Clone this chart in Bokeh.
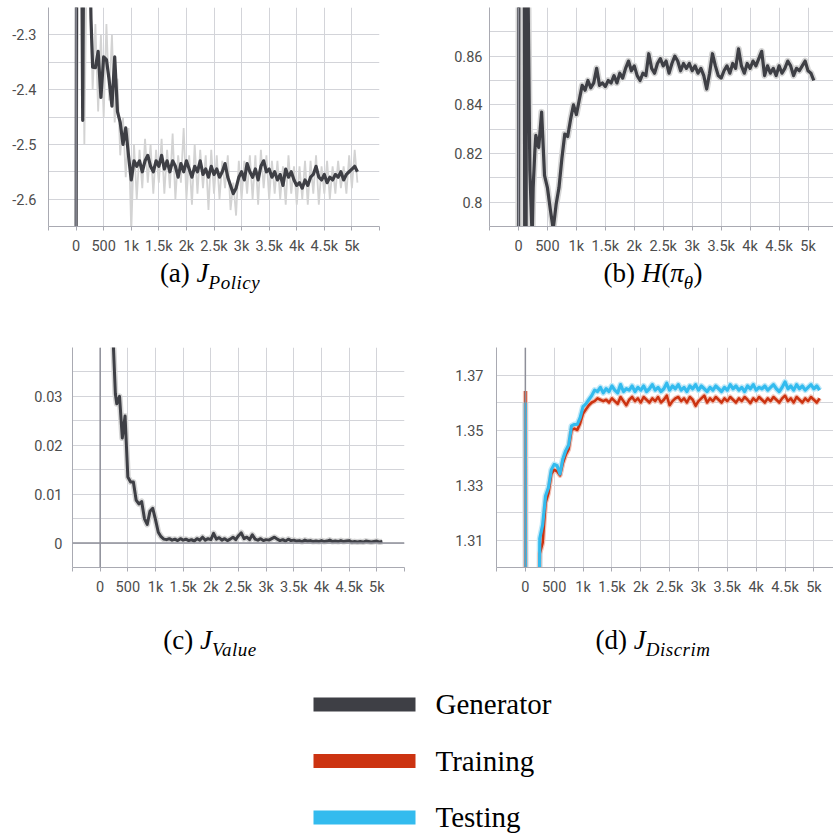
from bokeh.plotting import figure
from bokeh.models import Range1d, FixedTicker, Span, Div, ColumnDataSource
from bokeh.layouts import column, row
from bokeh.embed import file_html
from bokeh.resources import INLINE
from bokeh.core.properties import value

# ---------------- data ----------------
x_tick_values = [-500, 0, 500, 1000, 1500, 2000, 2500, 3000, 3500, 4000, 4500, 5000, 5500]
x_tick_labels = ["", "0", "500", "1k", "1.5k", "2k", "2.5k", "3k", "3.5k", "4k", "4.5k", "5k", ""]

# (a) J_Policy
policy_steps = [0, 8, 100, 120, 140, 240, 270] + list(range(300, 5101, 50))
policy_smoothed = [
    -2.72, -2.10, -2.10, -2.456, -2.10, -2.10, -2.27,
    -2.359, -2.36, -2.33, -2.414, -2.34, -2.345, -2.383, -2.43, -2.34, -2.44,
    -2.46, -2.50, -2.47, -2.52, -2.565,
    -2.53, -2.54, -2.53, -2.55, -2.53, -2.52, -2.54, -2.55, -2.53, -2.54,
    -2.52, -2.545, -2.53, -2.55, -2.53, -2.54, -2.56, -2.535, -2.55, -2.53,
    -2.545, -2.56, -2.54, -2.55, -2.53, -2.555, -2.545, -2.56, -2.54, -2.555,
    -2.545, -2.56, -2.55, -2.535, -2.56, -2.575, -2.59, -2.58, -2.56, -2.55,
    -2.565, -2.535, -2.55, -2.56, -2.545, -2.565, -2.54, -2.53, -2.55, -2.545,
    -2.56, -2.55, -2.565, -2.555, -2.575, -2.545, -2.56, -2.55, -2.565, -2.575,
    -2.57, -2.58, -2.565, -2.575, -2.56, -2.555, -2.54, -2.56, -2.565, -2.555,
    -2.57, -2.56, -2.565, -2.555, -2.56, -2.55, -2.565, -2.555, -2.55, -2.545,
    -2.54, -2.55,
]
policy_raw_steps = list(range(0, 5101, 50))
policy_raw = [
    -2.70, -2.10, -2.10, -2.50, -2.10, -2.20, -2.40, -2.28, -2.44, -2.30,
    -2.45, -2.28, -2.42, -2.30, -2.46, -2.38, -2.52, -2.45, -2.56, -2.47,
    -2.66, -2.50, -2.60, -2.51, -2.58, -2.49, -2.57, -2.50, -2.59, -2.51,
    -2.57, -2.49, -2.59, -2.51, -2.58, -2.48, -2.60, -2.52, -2.57, -2.47,
    -2.60, -2.52, -2.61, -2.50, -2.59, -2.51, -2.58, -2.52, -2.62, -2.51,
    -2.59, -2.52, -2.60, -2.53, -2.58, -2.52, -2.62, -2.57, -2.63, -2.53,
    -2.60, -2.53, -2.59, -2.52, -2.60, -2.52, -2.61, -2.51, -2.58, -2.52,
    -2.60, -2.53, -2.59, -2.53, -2.60, -2.54, -2.61, -2.52, -2.59, -2.54,
    -2.61, -2.54, -2.60, -2.53, -2.61, -2.53, -2.59, -2.52, -2.61, -2.54,
    -2.59, -2.53, -2.60, -2.54, -2.59, -2.53, -2.58, -2.54, -2.59, -2.52,
    -2.58, -2.51, -2.57,
]
policy_y_ticks = [-2.6, -2.5, -2.4, -2.3]
policy_y_labels = ["-2.6", "-2.5", "-2.4", "-2.3"]
policy_y_grid = [-2.65, -2.6, -2.55, -2.5, -2.45, -2.4, -2.35, -2.3, -2.25]

# (b) H(pi_theta)
entropy_steps = [0, 8, 100, 110, 130, 140, 160, 197, 237, 254, 283] + list(range(300, 5101, 50))
entropy_smoothed = [
    0.75, 0.92, 0.92, 0.75, 0.75, 0.92, 0.90, 0.813, 0.785, 0.806, 0.821,
    0.8275, 0.8225, 0.837, 0.811, 0.806, 0.797, 0.789, 0.799, 0.806, 0.818,
    0.828, 0.827, 0.834, 0.840, 0.836,
    0.842, 0.848, 0.846, 0.850, 0.847, 0.849, 0.855, 0.848, 0.849, 0.8475,
    0.850, 0.849, 0.852, 0.849, 0.853, 0.851, 0.855, 0.858, 0.854, 0.856,
    0.852, 0.850, 0.853, 0.852, 0.861, 0.855, 0.853, 0.857, 0.859, 0.856,
    0.858, 0.853, 0.857, 0.860, 0.858, 0.854, 0.857, 0.855, 0.857, 0.854,
    0.856, 0.853, 0.855, 0.852, 0.8465, 0.853, 0.861, 0.856, 0.852, 0.851,
    0.854, 0.856, 0.853, 0.857, 0.855, 0.863, 0.856, 0.853, 0.857, 0.855,
    0.858, 0.856, 0.859, 0.862, 0.852, 0.856, 0.853, 0.855, 0.852, 0.856,
    0.853, 0.855, 0.858, 0.856, 0.852, 0.855, 0.854, 0.856, 0.858, 0.854,
    0.853, 0.850,
]
entropy_y_ticks = [0.80, 0.82, 0.84, 0.86]
entropy_y_labels = ["0.8", "0.82", "0.84", "0.86"]
entropy_y_grid = [0.79, 0.80, 0.81, 0.82, 0.83, 0.84, 0.85, 0.86, 0.87, 0.88]

# (c) J_Value
value_steps = [200, 240, 275] + list(range(300, 5101, 50))
value_smoothed = [
    0.08, 0.040, 0.0305,
    0.0285, 0.0300, 0.0215, 0.0260, 0.0135, 0.0125, 0.0125, 0.0088, 0.0080, 0.0085,
    0.0050, 0.0038, 0.0065, 0.0071, 0.0048, 0.0022, 0.0013, 0.0008, 0.0007, 0.0009,
    0.0006, 0.0008, 0.0005, 0.0009, 0.0006, 0.0008, 0.0005, 0.0007, 0.0004, 0.0009,
    0.0006, 0.0012, 0.0006, 0.0009, 0.0007, 0.0020, 0.0008, 0.0011, 0.0006, 0.0009,
    0.0005, 0.0008, 0.0012, 0.0007, 0.0015, 0.0021, 0.0009, 0.0012, 0.0007, 0.0017,
    0.0008, 0.0006, 0.0009, 0.0005, 0.0007, 0.0006, 0.0009, 0.0012, 0.0008, 0.0005,
    0.0007, 0.0004, 0.0008, 0.0005, 0.0006, 0.0004, 0.0005, 0.0003, 0.0006, 0.0004,
    0.0005, 0.0003, 0.0004, 0.0003, 0.0005, 0.0003, 0.0004, 0.0006, 0.0003, 0.0004,
    0.0003, 0.0005, 0.0003, 0.0004, 0.0005, 0.0002, 0.0003, 0.0002, 0.0003, 0.0002,
    0.0004, 0.0003, 0.0002, 0.0003, 0.0004, 0.0002, 0.0003,
]
value_y_ticks = [0.0, 0.01, 0.02, 0.03]
value_y_labels = ["0", "0.01", "0.02", "0.03"]
value_y_grid = [-0.005, 0.0, 0.005, 0.01, 0.015, 0.02, 0.025, 0.03, 0.035, 0.04]

# (d) J_Discrim
discrim_steps = [0, 5, 240] + list(range(250, 5101, 50))
discrim_training = [
    1.3642, 1.28, 1.28,
    1.3050, 1.3090, 1.3235, 1.3270, 1.3340, 1.3355, 1.3350, 1.3335, 1.3380, 1.3410,
    1.3430, 1.3500, 1.3505, 1.3500, 1.3525, 1.3560, 1.3575, 1.3590, 1.3600, 1.3605,
    1.3615, 1.3610, 1.3605,
    1.3610, 1.3600, 1.3615, 1.3605, 1.3595, 1.3620, 1.3605, 1.3590, 1.3610, 1.3620,
    1.3605, 1.3615,
    1.3600, 1.3620, 1.3610, 1.3600, 1.3615, 1.3605, 1.3620, 1.3600, 1.3610, 1.3625,
    1.3590, 1.3605, 1.3615, 1.3620, 1.3605, 1.3615, 1.3600, 1.3620, 1.3610, 1.3588,
    1.3605, 1.3615, 1.3625, 1.3600, 1.3615, 1.3605, 1.3620, 1.3610, 1.3600, 1.3615,
    1.3605, 1.3620, 1.3610, 1.3600, 1.3615, 1.3605, 1.3620, 1.3610, 1.3598, 1.3615,
    1.3605, 1.3620, 1.3610, 1.3600, 1.3615, 1.3605, 1.3620, 1.3610, 1.3600, 1.3615,
    1.3625, 1.3605, 1.3615, 1.3600, 1.3620, 1.3610, 1.3600, 1.3615, 1.3605, 1.3620,
    1.3610, 1.3600, 1.3615,
]
discrim_testing = [
    1.3600, 1.28, 1.28,
    1.3105, 1.3155, 1.3260, 1.3290, 1.3355, 1.3375, 1.3370, 1.3340, 1.3395, 1.3425,
    1.3445, 1.3515, 1.3520, 1.3520, 1.3545, 1.3585, 1.3595, 1.3610, 1.3625, 1.3645,
    1.3640, 1.3655, 1.3635,
    1.3650, 1.3640, 1.3660, 1.3645, 1.3635, 1.3665, 1.3640, 1.3650, 1.3645, 1.3660,
    1.3640, 1.3655,
    1.3645, 1.3660, 1.3640, 1.3650, 1.3665, 1.3645, 1.3655, 1.3640, 1.3650, 1.3670,
    1.3645, 1.3660, 1.3650, 1.3665, 1.3645, 1.3655, 1.3640, 1.3660, 1.3650, 1.3665,
    1.3645, 1.3660, 1.3650, 1.3640, 1.3655, 1.3645, 1.3660, 1.3650, 1.3640, 1.3655,
    1.3645, 1.3665, 1.3650, 1.3660, 1.3645, 1.3655, 1.3640, 1.3660, 1.3650, 1.3665,
    1.3645, 1.3655, 1.3650, 1.3660, 1.3645, 1.3655, 1.3665, 1.3650, 1.3640, 1.3655,
    1.3675, 1.3650, 1.3660, 1.3645, 1.3665, 1.3650, 1.3660, 1.3645, 1.3655, 1.3665,
    1.3650, 1.3660, 1.3645,
]
discrim_y_ticks = [1.31, 1.33, 1.35, 1.37]
discrim_y_labels = ["1.31", "1.33", "1.35", "1.37"]
discrim_y_grid = [1.30, 1.31, 1.32, 1.33, 1.34, 1.35, 1.36, 1.37, 1.38]

legend_names = ["Generator", "Training", "Testing"]

caption_a = '(a) <i>J</i><sub class="s">Policy</sub>'
caption_b = '(b) <i>H</i>(<i>&pi;</i><sub class="s">&theta;</sub>)'
caption_c = '(c) <i>J</i><sub class="s">Value</sub>'
caption_d = '(d) <i>J</i><sub class="s">Discrim</sub>'

# ---------------- styles ----------------
DARK = "#3e3f45"
RAW = "#d3d3d3"
HALO = "#d6d6d6"
RED = "#cc3311"
BLUE = "#33bbee"
RED_HALO = "#f1c2b6"
BLUE_HALO = "#bfe8f8"
GRID = "#d3d4d9"
AXIS = "#a9aab2"
ZERO = "#8e8f99"
TICK_FONT = "Roboto"
TICK_COLOR = "#4d4d4d"
legend_colors = [DARK, RED, BLUE]

for xs, ys in [(policy_steps, policy_smoothed), (policy_raw_steps, policy_raw),
               (entropy_steps, entropy_smoothed), (value_steps, value_smoothed),
               (discrim_steps, discrim_training), (discrim_steps, discrim_testing)]:
    assert len(xs) == len(ys), (len(xs), len(ys))


def make_panel(width, left, right, x_end, y_range, y_ticks, y_labels, y_grid, standoff, frame_h):
    p = figure(width=width, height=7 + frame_h + 36,
               x_range=Range1d(-500, x_end), y_range=Range1d(*y_range),
               output_backend="svg", toolbar_location=None,
               min_border_left=left, min_border_right=right,
               min_border_top=7, min_border_bottom=36)
    p.outline_line_color = None
    p.background_fill_color = "white"
    p.border_fill_color = "white"
    xa = p.xaxis[0]
    xa.ticker = FixedTicker(ticks=x_tick_values)
    xa.major_label_overrides = dict(zip(x_tick_values, x_tick_labels))
    xa.axis_line_color = AXIS
    xa.major_tick_line_color = AXIS
    xa.major_tick_out = 4
    xa.major_tick_in = 0
    xa.minor_tick_line_color = None
    xa.major_label_standoff = 7
    ya = p.yaxis[0]
    ya.ticker = FixedTicker(ticks=y_ticks)
    ya.major_label_overrides = dict(zip(y_ticks, y_labels))
    ya.axis_line_color = AXIS
    ya.major_tick_line_color = None
    ya.minor_tick_line_color = None
    ya.major_tick_out = 0
    ya.major_label_standoff = standoff
    for ax in (xa, ya):
        ax.major_label_text_font = TICK_FONT
        ax.major_label_text_font_size = "14.5px"
        ax.major_label_text_color = TICK_COLOR
    p.xgrid[0].ticker = FixedTicker(ticks=x_tick_values)
    p.ygrid[0].ticker = FixedTicker(ticks=y_grid)
    p.grid.grid_line_color = GRID
    p.grid.grid_line_width = 1
    p.add_layout(Span(location=0, dimension="height", line_color=ZERO, line_width=1.5))
    return p


# (a)
pa = make_panel(420, 48, 41, 5500, (-2.65, -2.25), policy_y_ticks, policy_y_labels, policy_y_grid, 12, 219)
pa.line(policy_raw_steps, policy_raw, line_color=RAW, line_width=1.8)
pa.line(policy_steps, policy_smoothed, line_color=DARK, line_width=3.2, line_join="round")

# (b)
pb = make_panel(413, 69, 0, 5440, (0.79, 0.88), entropy_y_ticks, entropy_y_labels, entropy_y_grid, 7, 219)
pb.line(entropy_steps, entropy_smoothed, line_color=HALO, line_width=6.5, line_join="round")
pb.line(entropy_steps, entropy_smoothed, line_color=DARK, line_width=3.2, line_join="round")

# (c)
pc = make_panel(420, 72, 16, 5500, (-0.005, 0.04), value_y_ticks, value_y_labels, value_y_grid, 10, 220)
pc.add_layout(Span(location=0, dimension="width", line_color=ZERO, line_width=1.5))
pc.line(value_steps, value_smoothed, line_color=HALO, line_width=6, line_join="round")
pc.line(value_steps, value_smoothed, line_color=DARK, line_width=3.0, line_join="round")

# (d)
pd_ = make_panel(413, 76, 0, 5340, (1.30, 1.38), discrim_y_ticks, discrim_y_labels, discrim_y_grid, 13, 220)
pd_.line(discrim_steps, discrim_testing, line_color=BLUE_HALO, line_width=6, line_join="round")
pd_.line(discrim_steps, discrim_training, line_color=RED_HALO, line_width=5, line_join="round")
pd_.line(discrim_steps, discrim_training, line_color=RED, line_width=2.6, line_join="round")
pd_.line(discrim_steps, discrim_testing, line_color=BLUE, line_width=3.2, line_join="round")


CAP_STYLE = ("font-family:'Liberation Serif',serif;font-size:27px;color:#000;"
             "line-height:30px;text-align:center;white-space:nowrap;box-sizing:border-box;"
             "position:relative;")
SUB_STYLE = "<style>.s{font-style:italic;font-size:19px;letter-spacing:0.5px;vertical-align:-7px;line-height:0;}</style>"


def caption(html, width, height, pad_left, top):
    return Div(text=SUB_STYLE + f'<div style="{CAP_STYLE}width:{width}px;padding-left:{pad_left}px;'
                                f'top:{top}px">{html}</div>',
               width=width, height=height, margin=0)


cap_a = caption(caption_a, 420, 78, 0, -4)
cap_b = caption(caption_b, 413, 78, 53, -4)
cap_c = caption(caption_c, 420, 82, 0, 22)
cap_d = caption(caption_d, 413, 82, 53, 22)

# legend
leg_src = ColumnDataSource(dict(idx=list(range(len(legend_names))), name=legend_names, color=legend_colors))
pl = figure(width=833, height=152, x_range=Range1d(0, 833), y_range=Range1d(2.354, -0.336),
            output_backend="svg", toolbar_location=None)
pl.min_border = 0
pl.axis.visible = False
pl.grid.visible = False
pl.outline_line_color = None
pl.hbar(y="idx", left=313, right=415, height=0.25, fill_color="color", line_color=None, source=leg_src)
pl.text(x=435, y="idx", text="name", text_baseline="middle", text_align="left",
        text_font=value("Liberation Serif"), text_font_size="29px", text_color="#000", source=leg_src)

layout = column(
    row(column(pa, cap_a, spacing=0), column(pb, cap_b, spacing=0), spacing=0),
    row(column(pc, cap_c, spacing=0), column(pd_, cap_d, spacing=0), spacing=0),
    pl,
    spacing=0,
)

open("out.html", "w").write(file_html(layout, INLINE))
